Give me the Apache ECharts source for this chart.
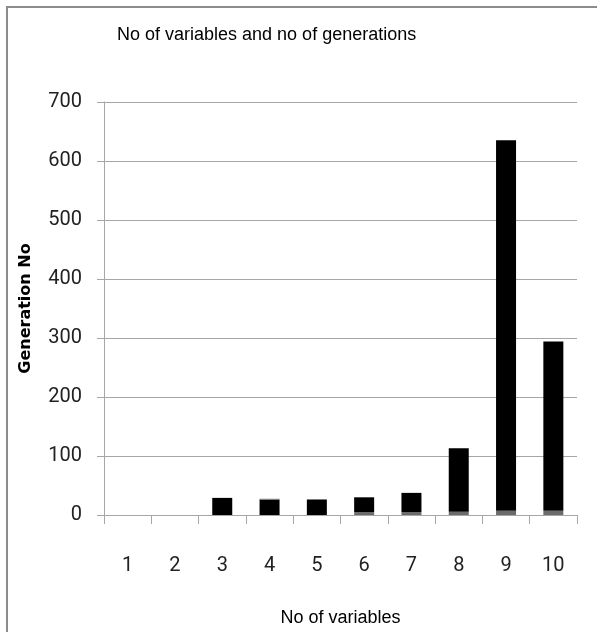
<!DOCTYPE html>
<html>
<head>
<meta charset="utf-8">
<script src="https://cdn.jsdelivr.net/npm/echarts@6/dist/echarts.min.js"></script>
<style>html,body{margin:0;padding:0;background:#fff}#c{width:597px;height:632px}</style>
</head>
<body>
<div id="c"></div>
<script>
const categories = ['1','2','3','4','5','6','7','8','9','10'];
const baseValues = [0, 0, 0, 0, 0, 5, 5, 5.5, 7, 7];
const mainValues = [0, 0, 29, 26, 25.5, 25, 32.5, 107.5, 628, 287];
const topValues = [0, 0, 0, 1.5, 1.5, 0, 0, 0, 0, 0];
const yTicks = [0, 100, 200, 300, 400, 500, 600, 700];

const chart = echarts.init(document.getElementById('c'), null, {renderer: 'canvas'});
const gridColor = '#a6a6a6';
chart.setOption({
  animation: false,
  backgroundColor: '#fff',
  graphic: [{
    type: 'rect', shape: {x: 7, y: 7, width: 600, height: 640},
    style: {fill: 'none', stroke: '#8c8c8c', lineWidth: 2}, z: 100
  }],
  title: {
    text: 'No of variables and no of generations',
    top: 21,
    left: 112,
    textStyle: {fontFamily: 'Liberation Sans, Arial, sans-serif', fontWeight: 'normal', fontSize: 18, color: '#000'}
  },
  grid: {left: 104, right: 20, top: 102, bottom: 115},
  xAxis: {
    type: 'category', data: categories, boundaryGap: true,
    name: 'No of variables', nameLocation: 'middle', nameGap: 94,
    nameTextStyle: {fontFamily: 'Liberation Sans, sans-serif', fontSize: 18, color: '#000'},
    axisLine: {lineStyle: {color: gridColor, width: 1}},
    axisTick: {show: true, length: 9, alignWithLabel: false, lineStyle: {color: gridColor}},
    axisLabel: {margin: 41, fontFamily: 'Roboto, sans-serif', fontSize: 20, color: '#222'}
  },
  yAxis: {
    type: 'value', min: 0, max: 700, interval: 100,
    name: 'Generation No', nameLocation: 'middle', nameGap: 70,
    nameTextStyle: {fontFamily: 'DejaVu Sans, sans-serif', fontWeight: 'bold', fontSize: 16, color: '#000'},
    axisLine: {show: true, lineStyle: {color: gridColor, width: 1}},
    axisTick: {show: true, length: 7, lineStyle: {color: gridColor}},
    splitLine: {lineStyle: {color: gridColor, width: 1}},
    axisLabel: {margin: 22, fontFamily: 'Roboto, sans-serif', fontSize: 20, color: '#222',
      formatter: v => yTicks.includes(v) ? String(v) : ''}
  },
  series: [
    {type: 'bar', stack: 's', data: baseValues, barWidth: 20, itemStyle: {color: '#6b6b6b'}},
    {type: 'bar', stack: 's', data: mainValues, barWidth: 20, itemStyle: {color: '#000'}},
    {type: 'bar', stack: 's', data: topValues, barWidth: 20, itemStyle: {color: '#6b6b6b'}}
  ]
});
</script>
</body>
</html>
